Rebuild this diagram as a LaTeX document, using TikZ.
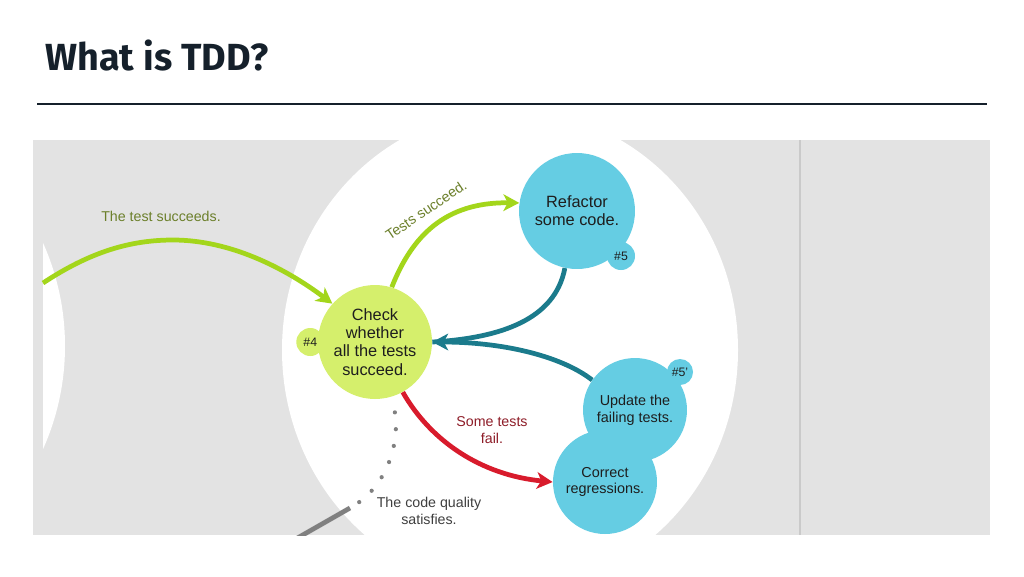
\documentclass[tikz,border=0pt]{standalone}
\usepackage{fontspec}
\setmainfont{Liberation Sans}
\newfontfamily\titlefont{Fira Sans}
\usetikzlibrary{arrows.meta, positioning, shapes.geometric}
\usepackage{xcolor}

\definecolor{titleink}{HTML}{15202B}
\definecolor{panelgrey}{HTML}{E3E3E3}
\definecolor{splitgrey}{HTML}{CACACA}
\definecolor{checklime}{HTML}{D5EF6C}
\definecolor{refcyan}{HTML}{65CDE3}
\definecolor{arrowlime}{HTML}{A3D61B}
\definecolor{labelolive}{HTML}{6B7F2A}
\definecolor{loopteal}{HTML}{1B7B8C}
\definecolor{failred}{HTML}{D81B2C}
\definecolor{labelred}{HTML}{8E1D28}
\definecolor{dotgrey}{HTML}{808080}
\definecolor{labelgrey}{HTML}{3F3F3F}
\definecolor{ink}{HTML}{1E1E1E}

\begin{document}
\begin{tikzpicture}[
  x=0.02cm, y=-0.02cm,
  bigstep/.style={circle, inner sep=0pt, minimum size=2.3cm, align=center,
    text=ink, font=\fontsize{9.3}{10.4}\selectfont},
  smallstep/.style={circle, inner sep=0pt, minimum size=2.08cm, align=center,
    text=ink, fill=refcyan, font=\fontsize{8.2}{9.6}\selectfont},
  tag/.style={circle, inner sep=0pt, minimum size=0.56cm,
    text=ink, font=\fontsize{7}{8}\selectfont},
  edgelabel/.style={align=center, font=\fontsize{8.1}{9.3}\selectfont},
  arrow/.style={-{Stealth[length=9pt, width=9.5pt, inset=2.5pt]}, line width=2.7pt},
  dotted line/.style={dotgrey, line width=2.4pt, line cap=round,
    dash pattern=on 0pt off 9.6pt, dash phase=0.6pt}
]
\useasboundingbox (0,0) rectangle (1024,576);

% title and rule
\node (title) [anchor=base west, inner sep=0pt, text=titleink,
  font=\titlefont\bfseries\fontsize{21.5}{26}\selectfont] at (45,70) {What is TDD?};
\draw [titleink, line width=1.1pt] (37,104) -- (987,104);

% panel
\fill [panelgrey] (33,140) rectangle (990,535);
\draw [splitgrey, line width=0.6pt] (800,140) -- (800,535);

\begin{scope}
\clip (33,140) rectangle (990,535);
\begin{scope}
\clip (43,140) rectangle (120,535);
\fill [white] (-187,346) circle [radius=252];
\end{scope}
\fill [white] (510,350) ellipse [x radius=228, y radius=240];

% steps
\node (check) [bigstep, fill=checklime, minimum size=2.28cm] at (375,342)
  {Check\\whether\\all the tests\\succeed.};
\node (tag4) [tag, fill=checklime, left=-0.14cm of check] {\#4};
\node (refactor) [bigstep, fill=refcyan, minimum size=2.32cm] at (577,211)
  {Refactor\\some code.};
\node (tag5) [tag, fill=refcyan] at (621,256) {\#5};
\node (update) [smallstep] at (635,410) {Update the\\failing tests.};
\node (correct) [smallstep] at (605,482) {Correct\\regressions.};
\node (tag5b) [tag, fill=refcyan, minimum size=0.52cm] at (680,372) {\#5'};

\coordinate (passstart) at (43,283);
\coordinate (dotsend) at (350,508);
\coordinate (quality) at (280,548);

% connectors
\draw [arrow, arrowlime] (passstart) .. controls (90,252) and (130,240) .. (173,240)
  .. controls (230,240) and (285,268) .. (check.138);
\draw [arrow, arrowlime] (check.73) .. controls (412,236) and (445,202) .. (refactor.172);
\draw [line width=2.7pt, loopteal] (refactor.-102) .. controls (555,320) and (500,338) .. (check.east);
\draw [arrow, loopteal] (update.145) .. controls (560,355) and (500,342) .. (check.east);
\draw [arrow, failred] (check.-61) .. controls (430,440) and (480,475) .. (correct.180);
\draw [dotted line] (check.-74) .. controls (404,430) and (392,485) .. (dotsend);
\draw [dotgrey, line width=2.7pt] (dotsend) -- (quality);

% labels
\node (passlabel) [edgelabel, text=labelolive] at (161,216) {The test succeeds.};
\node (greenlabel) [edgelabel, text=labelolive, rotate=34] at (426,210) {Tests succeed.};
\node (faillabel) [edgelabel, text=labelred] at (492,430) {Some tests\\fail.};
\node (qualitylabel) [edgelabel, text=labelgrey] at (429,511) {The code quality\\satisfies.};
\end{scope}

\end{tikzpicture}
\end{document}
